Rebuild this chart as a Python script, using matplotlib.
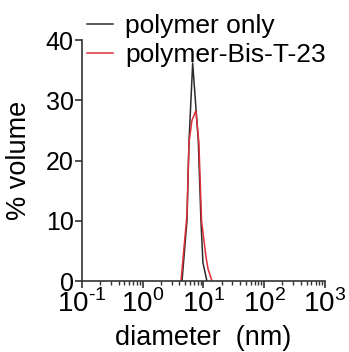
import matplotlib.pyplot as plt
import numpy as np

plt.rcParams['font.family'] = ['Liberation Sans', 'DejaVu Sans']
plt.rcParams['mathtext.fontset'] = 'custom'
plt.rcParams['mathtext.rm'] = 'Liberation Sans'

series = ["polymer only", "polymer-Bis-T-23"]

d_polymer = [4.43, 5.35, 5.77, 6.64, 8.21, 9.09, 9.81, 11.4]
v_polymer = [0, 10, 23, 36.2, 23.4, 10, 3, 0]

d_bis = [4.27, 5.35, 5.77, 6.47, 7.5, 8.4, 9.3, 11.0, 11.9, 13.8]
v_bis = [0, 11, 23, 26.7, 28.3, 23, 10, 4, 2, 0]

x_ticks = [0.1, 1, 10, 100, 1000]
x_exps = ["-1", "0", "1", "2", "3"]
x_labels = ["10$^{\\text{%s}}$" % e for e in x_exps]
y_ticks = [0, 10, 20, 30, 40]

colors = ["#2b2b2b", "#dc2f3a"]

fig = plt.figure(figsize=(3.49, 3.52), dpi=100)
ax = fig.add_axes([0.235, 0.2017, 0.696, 0.684])

ax.plot(d_polymer, v_polymer, color=colors[0], lw=1.1, label=series[0])
ax.plot(d_bis, v_bis, color=colors[1], lw=1.1, label=series[1])

ax.set_xscale("log")
ax.set_xlim(0.1, 1000)
ax.set_ylim(0, 40)
ax.set_xticks(x_ticks)
ax.set_xticklabels(x_labels, fontsize=20)
ax.set_yticks(y_ticks)

for s in ["top", "right"]:
    ax.spines[s].set_visible(False)
for s in ["left", "bottom"]:
    ax.spines[s].set_color("#333333")
    ax.spines[s].set_linewidth(1.2)

ax.tick_params(axis="y", which="major", labelsize=18)
ax.tick_params(axis="both", which="major", length=5, width=1.2,
               color="#333333", pad=1)
ax.tick_params(axis="x", which="minor", length=3, width=1.0, color="#333333")

ax.set_xlabel("diameter  (nm)", fontsize=19.5, labelpad=5)
ax.set_ylabel("% volume", fontsize=19.5)
ax.yaxis.set_label_coords(-0.205, 0.5)

fig.legend(loc="upper left", bbox_to_anchor=(87 / 349, 0.96), frameon=False,
           fontsize=19, handlelength=1.0, handletextpad=0.45,
           labelspacing=0.2, borderaxespad=0, borderpad=0)

fig.savefig("out.png", dpi=100)
